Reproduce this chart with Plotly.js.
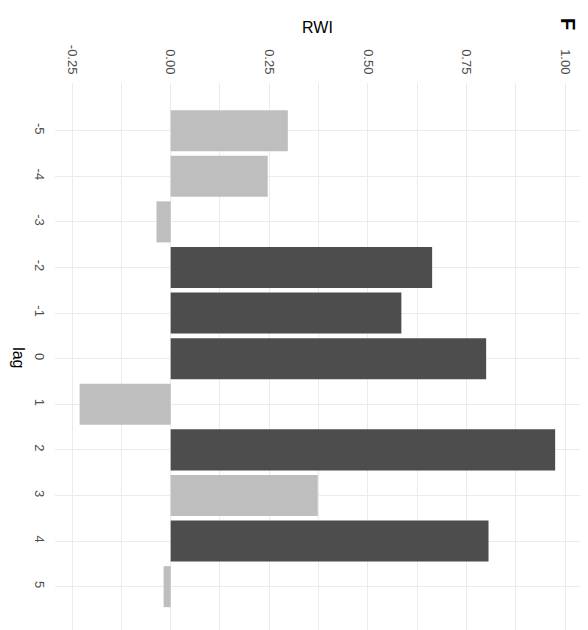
<!DOCTYPE html>
<html>
<head>
<meta charset="utf-8">
<script src="https://cdn.plot.ly/plotly-3.0.1.min.js"></script>
<style>
  html, body { margin: 0; padding: 0; background: #ffffff; }
  #chart { width: 588px; height: 630px; }
</style>
</head>
<body>
<div id="chart"></div>
<script>
// Lagged correlation of ring-width index (RWI) for lags -5 .. 5
const lags = [-5, -4, -3, -2, -1, 0, 1, 2, 3, 4, 5];
const rwi = [0.297, 0.246, -0.036, 0.663, 0.585, 0.800, -0.231, 0.975, 0.373, 0.806, -0.018];
const significant = [false, false, false, true, true, true, false, true, false, true, false];

const lagLabels = ['-5', '-4', '-3', '-2', '-1', '0', '1', '2', '3', '4', '5'];
const rwiTicks = [-0.25, 0, 0.25, 0.5, 0.75, 1.0];
const rwiTickLabels = ['-0.25', '0.00', '0.25', '0.50', '0.75', '1.00'];

const DARK = '#4d4d4d';
const LIGHT = '#bebebe';
const GRID = '#ebebeb';
const FONT = 'Liberation Sans, Arial, sans-serif';

const trace = {
  type: 'bar',
  orientation: 'h',
  x: rwi,
  y: lags,
  width: 0.9,
  marker: {
    color: significant.map(s => s ? DARK : LIGHT),
    line: { width: 0 }
  },
  hoverinfo: 'x+y'
};

const layout = {
  width: 588,
  height: 630,
  margin: { l: 55, r: 8, t: 83, b: 0, pad: 0 },
  paper_bgcolor: '#ffffff',
  plot_bgcolor: '#ffffff',
  showlegend: false,
  font: { family: FONT, color: DARK },
  xaxis: {
    side: 'top',
    range: [-0.2934, 1.038],
    tickvals: rwiTicks,
    ticktext: rwiTickLabels,
    tickangle: 90,
    tickfont: { size: 13, color: DARK, family: FONT },
    ticks: 'outside',
    ticklen: 3,
    tickcolor: 'rgba(0,0,0,0)',
    showgrid: true,
    gridcolor: GRID,
    gridwidth: 1,
    minor: { dtick: 0.125, tick0: 0.125, showgrid: true, gridcolor: GRID, gridwidth: 1 },
    zeroline: false,
    showline: false,
    automargin: false,
    fixedrange: true,
    title: { text: 'RWI', font: { size: 16, color: '#000000', family: FONT }, standoff: 7 }
  },
  yaxis: {
    range: [5.95, -6.046],
    tickvals: lags,
    ticktext: lagLabels,
    tickangle: 90,
    tickfont: { size: 13, color: DARK, family: FONT },
    ticks: 'outside',
    ticklen: 3,
    tickcolor: 'rgba(0,0,0,0)',
    showgrid: true,
    gridcolor: GRID,
    gridwidth: 1,
    zeroline: false,
    showline: false,
    automargin: false,
    fixedrange: true
  },
  annotations: [
    {
      text: 'lag',
      xref: 'paper', yref: 'paper',
      x: -0.0686, y: 0.497,
      xanchor: 'center', yanchor: 'middle',
      textangle: 90,
      showarrow: false,
      font: { size: 16, color: '#000000', family: FONT }
    },
    {
      text: '<b>F</b>',
      xref: 'paper', yref: 'paper',
      x: 0.977, y: 1.108,
      xanchor: 'center', yanchor: 'middle',
      textangle: 90,
      showarrow: false,
      font: { size: 20, color: '#000000', family: FONT }
    }
  ]
};

Plotly.newPlot('chart', [trace], layout, { displayModeBar: false, staticPlot: true });
</script>
</body>
</html>
